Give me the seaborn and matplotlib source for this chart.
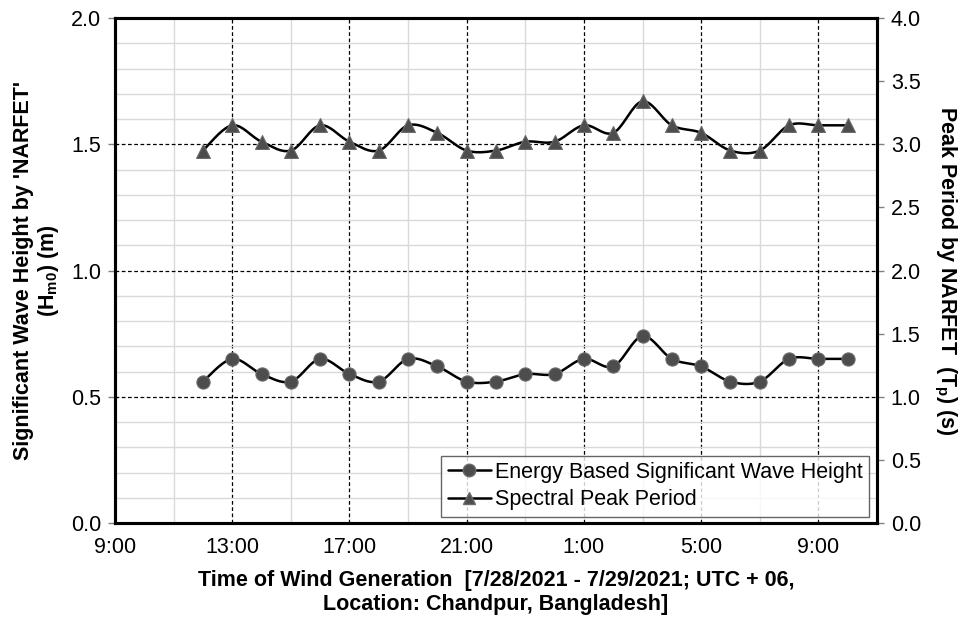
import numpy as np
import pandas as pd
import matplotlib
matplotlib.use("Agg")
import matplotlib.pyplot as plt
from matplotlib.lines import Line2D
from matplotlib.ticker import MultipleLocator, FormatStrFormatter
import seaborn as sns

# ---------------- Data ---------------- #
# hours counted from 9:00 on 7/28/2021
hours = list(range(3, 26))  # 12:00 ... 10:00 next day
hm0 = [0.56, 0.65, 0.59, 0.56, 0.65, 0.59, 0.56, 0.65, 0.62, 0.56, 0.56, 0.59,
       0.59, 0.65, 0.62, 0.74, 0.65, 0.62, 0.56, 0.56, 0.65, 0.65, 0.65]
tp = [2.95, 3.15, 3.02, 2.95, 3.15, 3.02, 2.95, 3.15, 3.09, 2.95, 2.95, 3.02,
      3.02, 3.15, 3.09, 3.34, 3.15, 3.09, 2.95, 2.95, 3.15, 3.15, 3.15]
tick_hours = [0, 4, 8, 12, 16, 20, 24]
tick_labels = ["9:00", "13:00", "17:00", "21:00", "1:00", "5:00", "9:00"]


def smooth_curve(xs, ys, n=20):
    """Excel-style smoothed line (Bezier through the points)."""
    xs = np.asarray(xs, float)
    ys = np.asarray(ys, float)
    px = np.concatenate([[xs[0]], xs, [xs[-1]]])
    py = np.concatenate([[ys[0]], ys, [ys[-1]]])
    out_x, out_y = [], []
    t = np.linspace(0, 1, n)
    for i in range(1, len(px) - 2):
        p0 = np.array([px[i], py[i]])
        p3 = np.array([px[i + 1], py[i + 1]])
        b1 = p0 + (p3 - np.array([px[i - 1], py[i - 1]])) / 6
        b2 = p3 - (np.array([px[i + 2], py[i + 2]]) - p0) / 6
        for tt in t:
            pt = ((1 - tt) ** 3) * p0 + 3 * ((1 - tt) ** 2) * tt * b1 \
                + 3 * (1 - tt) * tt ** 2 * b2 + tt ** 3 * p3
            out_x.append(pt[0])
            out_y.append(pt[1])
    return pd.DataFrame({"x": out_x, "y": out_y})


sns.set_style("white")
plt.rcParams["font.family"] = ["Liberation Sans", "DejaVu Sans"]
plt.rcParams["mathtext.fontset"] = "custom"
plt.rcParams["mathtext.rm"] = "Liberation Sans"
plt.rcParams["mathtext.bf"] = "Liberation Sans:bold"
plt.rcParams["text.color"] = "black"
plt.rcParams["axes.labelcolor"] = "black"
plt.rcParams["xtick.labelcolor"] = "black"
plt.rcParams["ytick.labelcolor"] = "black"

FS = 15.5

fig = plt.figure(figsize=(9.6, 6.23), dpi=100)
ax = fig.add_axes([0.1198, 0.1605, 0.7937, 0.8106])
ax2 = ax.twinx()
ax2.grid(False)

# ---------------- Grid ---------------- #
ax.set_xlim(0, 26)
ax.set_ylim(0, 2.0)
ax2.set_ylim(0, 4.0)
ax.set_xticks(tick_hours)
ax.set_xticklabels(tick_labels)
ax.xaxis.set_minor_locator(MultipleLocator(2))
ax.yaxis.set_major_locator(MultipleLocator(0.5))
ax.yaxis.set_minor_locator(MultipleLocator(0.1))
ax2.yaxis.set_major_locator(MultipleLocator(0.5))

ax.grid(which="minor", color="#d9d9d9", lw=1.0, ls="-")
ax.grid(which="major", color="black", lw=0.9, ls=(0, (3, 2)))
ax.set_axisbelow(True)

# ---------------- Series ---------------- #
marker_fc = "#4d4d4d"
marker_ec = "#6a6a6a"

h_curve = smooth_curve(hours, hm0)
t_curve = smooth_curve(hours, tp)
sns.lineplot(data=h_curve, x="x", y="y", ax=ax, color="black", lw=1.8, sort=False,
             estimator=None)
sns.scatterplot(x=hours, y=hm0, ax=ax, marker="o", s=90, color=marker_fc,
                edgecolor=marker_ec, linewidth=0.8, zorder=4)
sns.lineplot(data=t_curve, x="x", y="y", ax=ax2, color="black", lw=1.8, sort=False,
             estimator=None)
sns.scatterplot(x=hours, y=tp, ax=ax2, marker="^", s=100, color=marker_fc,
                edgecolor=marker_ec, linewidth=0.8, zorder=4)

# ---------------- Axes styling ---------------- #
for a in (ax, ax2):
    for sp in a.spines.values():
        sp.set_linewidth(2.2)
        sp.set_color("black")
        sp.set_visible(True)
ax.tick_params(which="major", direction="out", length=5, width=1, color="#808080",
               labelsize=FS, labelcolor="black", pad=5)
ax.tick_params(which="minor", length=0)
ax2.tick_params(which="major", direction="out", length=5, width=1, color="#808080",
                labelsize=FS, labelcolor="black", pad=5)
ax.yaxis.set_major_formatter(FormatStrFormatter("%.1f"))
ax2.yaxis.set_major_formatter(FormatStrFormatter("%.1f"))

ax.set_xlabel("Time of Wind Generation  [7/28/2021 - 7/29/2021; UTC + 06,\n"
              "Location: Chandpur, Bangladesh]",
              fontsize=FS, fontweight="bold", labelpad=9, linespacing=1.15,
              color="black")
ax.set_ylabel("Significant Wave Height by 'NARFET'\n($\\mathbf{H_{m0}}$) (m)",
              fontsize=FS, fontweight="bold", labelpad=7, linespacing=1.1,
              color="black")
ax2.set_ylabel("Peak Period by NARFET  ($\\mathbf{T_{p}}$) (s)",
               fontsize=FS, fontweight="bold", rotation=270, labelpad=27,
               color="black")

# ---------------- Legend ---------------- #
handles = [
    Line2D([0], [0], color="black", lw=1.8, marker="o", markersize=9,
           markerfacecolor=marker_fc, markeredgecolor=marker_ec),
    Line2D([0], [0], color="black", lw=1.8, marker="^", markersize=9,
           markerfacecolor=marker_fc, markeredgecolor=marker_ec),
]
leg = ax2.legend(handles, ["Energy Based Significant Wave Height", "Spectral Peak Period"],
                 loc="lower right", bbox_to_anchor=(0.99, 0.012), borderaxespad=0,
                 fontsize=FS, frameon=True, fancybox=False, edgecolor="#404040",
                 handlelength=2.0, handletextpad=0.2, borderpad=0.3, labelspacing=0.3)
leg.get_frame().set_linewidth(1.0)
for txt in leg.get_texts():
    txt.set_color("black")

fig.savefig("out.png", dpi=100)
